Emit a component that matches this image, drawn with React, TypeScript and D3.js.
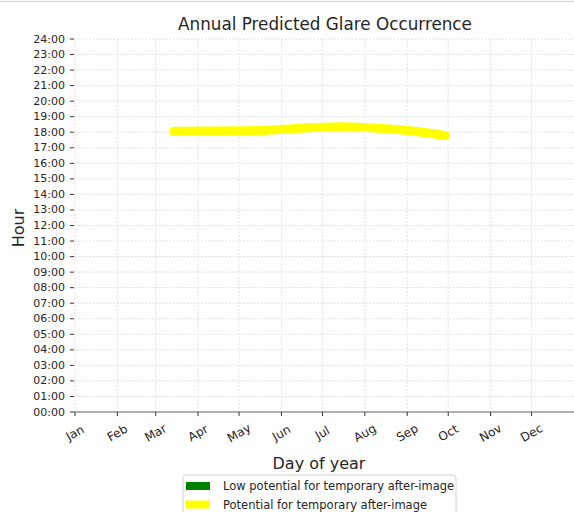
import React from "react";
import * as d3 from "d3";

const monthLabels = ["Jan", "Feb", "Mar", "Apr", "May", "Jun", "Jul", "Aug", "Sep", "Oct", "Nov", "Dec"];
const monthStartDays = [1, 32, 60, 91, 121, 152, 182, 213, 244, 274, 305, 335];
const hourTicks = d3.range(0, 25);
const glareDays = [73, 100, 130, 150, 165, 180, 195, 210, 225, 240, 255, 272];
const glareHours = [18.06, 18.08, 18.1, 18.17, 18.25, 18.32, 18.36, 18.33, 18.24, 18.14, 18.0, 17.78];
const legendLabels = ["Low potential for temporary after-image", "Potential for temporary after-image"];
const legendColors = ["#008000", "#ffff00"];

const W = 574;
const H = 512;
const FONT = "DejaVu Sans, sans-serif";

export default function App() {
  const x = d3.scaleLinear().domain([1, 366]).range([75, 574]);
  const y = d3.scaleLinear().domain([0, 24]).range([412, 39]);
  const pts: [number, number][] = glareDays.map((d, i) => [d, glareHours[i]]);
  const line = d3
    .line<[number, number]>()
    .x((d) => x(d[0]))
    .y((d) => y(d[1]))
    .curve(d3.curveMonotoneX);
  const fmt = (h: number) => `${String(h).padStart(2, "0")}:00`;

  return (
    <svg
      width={W}
      height={H}
      style={{ position: "absolute", left: 0, top: 0, background: "#fff" }}
      fontFamily={FONT}
    >
      <rect x={0} y={0} width={W} height={H} fill="#fff" />
      <line x1={0} x2={W} y1={1.5} y2={1.5} stroke="#dcdcdc" strokeWidth={1.5} />
      {/* grid */}
      {hourTicks.map((h) => (
        <line
          key={"hg" + h}
          x1={x(1)}
          x2={W}
          y1={y(h)}
          y2={y(h)}
          stroke="#dadada"
          strokeWidth={0.8}
          strokeDasharray="2,1.5"
        />
      ))}
      {monthStartDays.map((d, i) => (
        <line
          key={"vg" + i}
          x1={x(d)}
          x2={x(d)}
          y1={y(24)}
          y2={y(0)}
          stroke="#dadada"
          strokeWidth={0.8}
          strokeDasharray="2,1.5"
        />
      ))}
      {/* glare line */}
      <path
        d={line(pts) || ""}
        fill="none"
        stroke="#ffff00"
        strokeWidth={9}
        strokeLinecap="round"
        strokeLinejoin="round"
      />
      {/* bottom spine */}
      <line x1={x(1) - 1} x2={W} y1={y(0)} y2={y(0)} stroke="#999" strokeWidth={1.6} />
      {/* y ticks */}
      {hourTicks.map((h) => (
        <g key={"yt" + h}>
          <line x1={x(1) - 5} x2={x(1) - 1} y1={y(h)} y2={y(h)} stroke="#333" strokeWidth={1} />
          <text
            x={65}
            y={y(h)}
            textAnchor="end"
            dominantBaseline="central"
            fontSize={11}
            fill="#262626"
          >
            {fmt(h)}
          </text>
        </g>
      ))}
      {/* x ticks */}
      {monthStartDays.map((d, i) => (
        <g key={"xt" + i}>
          <line x1={x(d)} x2={x(d)} y1={y(0)} y2={y(0) + 4} stroke="#333" strokeWidth={1} />
          <text
            transform={`translate(${x(d)},433) rotate(-30)`}
            textAnchor="middle"
            dominantBaseline="central"
            fontSize={12}
            fill="#262626"
          >
            {monthLabels[i]}
          </text>
        </g>
      ))}
      {/* title & labels */}
      <text x={325} y={30} textAnchor="middle" fontSize={16.8} fill="#262626">
        Annual Predicted Glare Occurrence
      </text>
      <text x={319} y={469} textAnchor="middle" fontSize={16} fill="#262626">
        Day of year
      </text>
      <text
        transform={`translate(24,228) rotate(-90)`}
        textAnchor="middle"
        fontSize={16}
        fill="#262626"
      >
        Hour
      </text>
      {/* legend */}
      <rect x={183} y={475} width={273} height={50} rx={3} fill="#fff" stroke="#d0d0d0" strokeWidth={1} />
      {legendLabels.map((l, i) => (
        <g key={"lg" + i}>
          <rect x={186} y={482 + i * 18.5} width={24} height={8} fill={legendColors[i]} />
          <text x={223} y={486 + i * 18.5} dominantBaseline="central" fontSize={11.5} fill="#262626">
            {l}
          </text>
        </g>
      ))}
    </svg>
  );
}
